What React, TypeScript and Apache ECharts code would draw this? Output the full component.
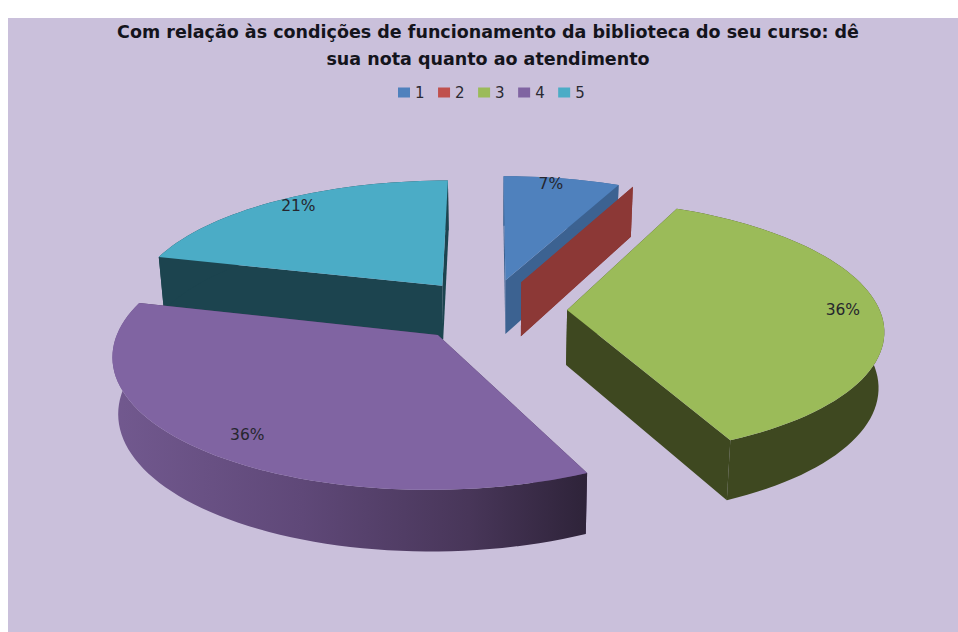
import React, { useEffect, useRef } from "react";
import * as echarts from "echarts";

const categories = ["1", "2", "3", "4", "5"];
const percentValues = [7, 0, 36, 36, 21];
const titleLines = [
  "Com relação às condições de funcionamento da biblioteca do seu curso: dê",
  "sua nota quanto ao atendimento",
];

const topColors = ["#4f81bd", "#c0504d", "#9bbb59", "#8064a2", "#4bacc6"];
const cutColors = ["#3c6291", "#8c3836", "#3e4820", "#4c3860", "#1c444f"];
const stackOrder = [2, 3, 4, 5, 1];
const labelNudges = [[-4, -7], [0, 0], [7, 0], [9, 3], [-1, -5]];

const FONT = "DejaVu Sans";
const CX = 481, CY = 292, RX = 312.5, RY = 126, PERSP = 0.138;
const EXPLODE = 0.25, DEPTH = 55, DEPTH_PERSP = 0.09, VANISH_X = 490, BOTTOM_SCALE = 0.985;
const LABEL_RADIUS = 0.86;

const total = percentValues.reduce((a, b) => a + b, 0);

function project(u: number, v: number, down: boolean): number[] {
  const w = 1 - PERSP * v;
  let x = CX + (RX * u) / w;
  let y = CY + (RY * v) / w;
  if (down) {
    x = VANISH_X + (x - VANISH_X) * BOTTOM_SCALE;
    y += DEPTH / (1 - DEPTH_PERSP * v);
  }
  return [x, y];
}

function renderSlice(index: number) {
  return (_params: any, api: any) => {
    const value = api.value(0) as number;
    const before = percentValues.slice(0, index).reduce((a, b) => a + b, 0);
    const a0 = (before / total) * Math.PI * 2;
    const a1 = ((before + value) / total) * Math.PI * 2;
    const mid = (a0 + a1) / 2;
    const ou = EXPLODE * Math.sin(mid);
    const ov = -EXPLODE * Math.cos(mid);
    const rim = (a: number, r = 1) => [ou + r * Math.sin(a), ov - r * Math.cos(a)];

    const steps = Math.max(1, Math.ceil((a1 - a0) / (Math.PI / 90)));
    const angles: number[] = [];
    for (let i = 0; i <= steps; i++) angles.push(a0 + ((a1 - a0) * i) / steps);

    const topRim = angles.map((a) => {
      const [u, v] = rim(a);
      return project(u, v, false);
    });
    const bottomRim = angles.map((a) => {
      const [u, v] = rim(a);
      return project(u, v, true);
    });
    const apexTop = project(ou, ov, false);
    const apexBottom = project(ou, ov, true);

    const children: any[] = [];
    const wallFill =
      index === 3
        ? new echarts.graphic.LinearGradient(0, 0, 1, 0, [
            { offset: 0, color: "#72598f" },
            { offset: 0.4, color: "#5f4878" },
            { offset: 0.75, color: "#483659" },
            { offset: 1, color: "#2e2339" },
          ])
        : cutColors[index];

    const cut = (i: number) => ({
      type: "polygon",
      shape: { points: [apexTop, topRim[i], bottomRim[i], apexBottom] },
      style: { fill: cutColors[index] },
    });
    children.push(cut(0));
    children.push(cut(angles.length - 1));
    if (value > 0) {
      children.push({
        type: "polygon",
        shape: { points: [...topRim, ...bottomRim.slice().reverse()] },
        style: { fill: wallFill },
      });
      children.push({
        type: "polygon",
        shape: { points: [apexTop, ...topRim] },
        style: { fill: topColors[index] },
      });
      const [lu, lv] = rim(mid, LABEL_RADIUS);
      const [lx, ly] = project(lu, lv, false);
      children.push({
        type: "text",
        style: {
          x: lx + labelNudges[index][0],
          y: ly + labelNudges[index][1],
          text: `${Math.round((value / total) * 100)}%`,
          fill: "#26262e",
          font: `15.5px "${FONT}"`,
          textAlign: "center",
          textVerticalAlign: "middle",
        },
      });
    }
    return { type: "group", children };
  };
}

export default function App() {
  const ref = useRef<HTMLDivElement>(null);

  useEffect(() => {
    const chart = echarts.init(ref.current!, null, { renderer: "svg" });
    chart.setOption({
      animation: false,
      backgroundColor: "#cac0db",
      title: {
        text: titleLines.join("\n"),
        left: 480,
        top: 0,
        padding: 0,
        textAlign: "center",
        textStyle: {
          fontFamily: FONT,
          fontSize: 17.5,
          fontWeight: "bold",
          color: "#14141c",
          lineHeight: 27,
        },
      },
      legend: {
        data: categories,
        left: 390,
        top: 67,
        padding: 0,
        icon: "rect",
        itemWidth: 12,
        itemHeight: 10,
        itemGap: 13.5,
        textStyle: { fontFamily: FONT, fontSize: 15, color: "#2a2a32" },
        selectedMode: false,
      },
      series: categories.map((name, i) => ({
        type: "custom",
        name,
        coordinateSystem: "none",
        z: stackOrder[i],
        silent: true,
        itemStyle: { color: topColors[i] },
        renderItem: renderSlice(i),
        data: [[percentValues[i]]],
      })),
    });
    return () => chart.dispose();
  }, []);

  return (
    <div
      ref={ref}
      style={{ position: "fixed", left: 8, top: 18, width: 950, height: 614 }}
    />
  );
}
